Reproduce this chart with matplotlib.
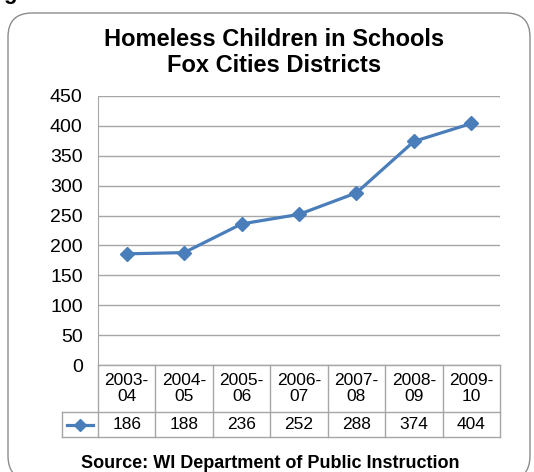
import matplotlib.pyplot as plt
from matplotlib.patches import FancyBboxPatch
from matplotlib.lines import Line2D
from matplotlib.transforms import blended_transform_factory

plt.rcParams['font.family'] = ['Liberation Sans', 'DejaVu Sans']

years = ["2003-\n04", "2004-\n05", "2005-\n06", "2006-\n07", "2007-\n08", "2008-\n09", "2009-\n10"]
children = [186, 188, 236, 252, 288, 374, 404]
yticks = [0, 50, 100, 150, 200, 250, 300, 350, 400, 450]

line_color = "#4A7EBB"
grid_color = "#A6A6A6"
W, H = 534, 472

fig = plt.figure(figsize=(W / 100, H / 100), dpi=100)

# chart frame with rounded corners, running off the bottom edge
frame = FancyBboxPatch((8 / W, (H - 480) / H), 522 / W, 467 / H,
                       boxstyle="round,pad=0,rounding_size=0.045",
                       transform=fig.transFigure, facecolor="none",
                       edgecolor="#8C8C8C", linewidth=1.0, zorder=-1,
                       mutation_aspect=W / H)
fig.patches.append(frame)
fig.text(3 / W, (H + 1) / H, "g", fontsize=16, fontweight="bold", va="baseline")

ax = fig.add_axes([98 / W, (H - 365) / H, 402 / W, 269 / H])
ax.patch.set_alpha(0)
x = list(range(len(children)))
ax.plot(x, children, color=line_color, linewidth=2.3, marker="D",
        markersize=7, zorder=3, clip_on=False)
ax.set_xlim(-0.5, len(children) - 0.5)
ax.set_ylim(0, 450)
ax.set_yticks(yticks)
ax.set_yticklabels([str(v) for v in yticks], fontsize=14)
ax.tick_params(axis="y", length=0, pad=11)
ax.set_xticks([])
ax.grid(axis="y", color=grid_color, linewidth=1.0)
ax.set_axisbelow(True)
for side in ["top", "right", "bottom"]:
    ax.spines[side].set_visible(False)
ax.spines["left"].set_color(grid_color)

fig.text(274 / W, (H - 40) / H, "Homeless Children in Schools",
         ha="center", va="center", fontsize=17, fontweight="bold")
fig.text(274 / W, (H - 66) / H, "Fox Cities Districts",
         ha="center", va="center", fontsize=17, fontweight="bold")

# data table under the plot
tr = blended_transform_factory(ax.transData, ax.transAxes)
row1 = -47 / 269
row2 = -72 / 269
leg_left = -0.5 - 36 / (402 / 7)
n = len(children)
kw = dict(transform=tr, color=grid_color, linewidth=1.0, clip_on=False)
ax.add_line(Line2D([-0.5, n - 0.5], [0, 0], **kw))
ax.add_line(Line2D([leg_left, n - 0.5], [row1, row1], **kw))
ax.add_line(Line2D([leg_left, n - 0.5], [row2, row2], **kw))
ax.add_line(Line2D([leg_left, leg_left], [row1, row2], **kw))
for i in range(n + 1):
    ax.add_line(Line2D([i - 0.5, i - 0.5], [0, row2], **kw))
for i in range(n):
    ax.text(i, row1 / 2, years[i], transform=tr, ha="center", va="center",
            fontsize=12.5, linespacing=1.15)
    ax.text(i, (row1 + row2) / 2, str(children[i]), transform=tr,
            ha="center", va="center", fontsize=12.5)

# legend key in the table
mid = (leg_left + -0.5) / 2
ax.add_line(Line2D([leg_left + 0.08, -0.5 - 0.08], [(row1 + row2) / 2] * 2,
                   transform=tr, color=line_color, linewidth=2.3,
                   clip_on=False))
ax.add_line(Line2D([mid], [(row1 + row2) / 2], transform=tr,
                   color=line_color, marker="D", markersize=6,
                   clip_on=False))

fig.text(270 / W, (H - 463) / H, "Source: WI Department of Public Instruction",
         ha="center", va="center", fontsize=13, fontweight="bold")

fig.savefig("out.png", dpi=100)
